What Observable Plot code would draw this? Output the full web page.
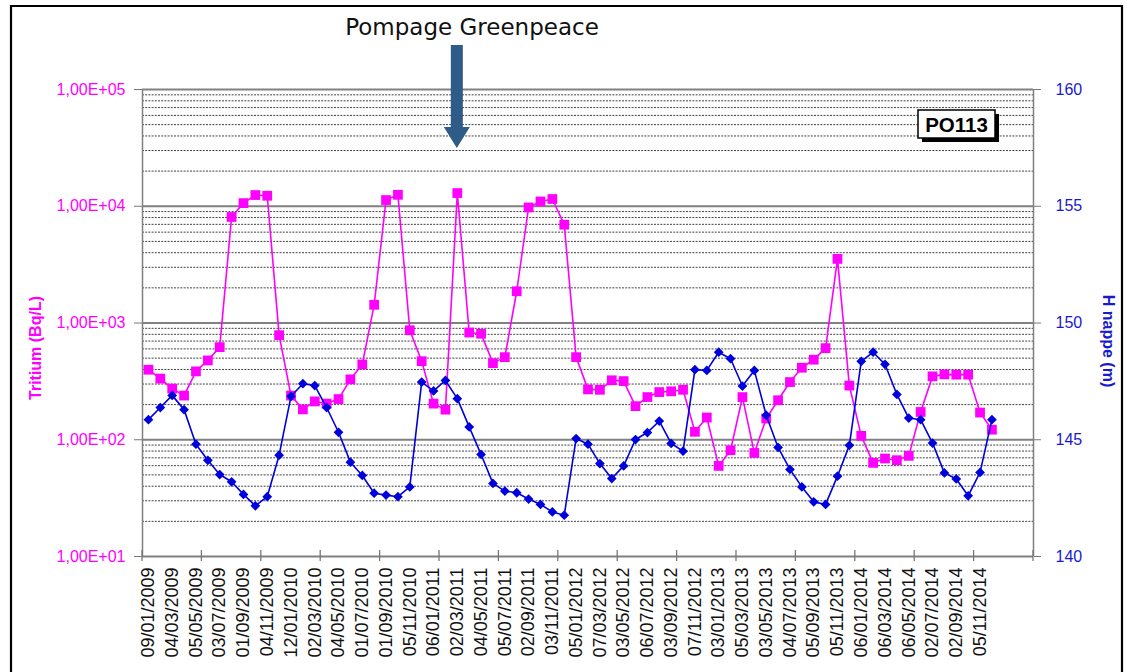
<!DOCTYPE html>
<html><head><meta charset="utf-8">
<script src="https://cdn.jsdelivr.net/npm/d3@7"></script>
<script src="https://cdn.jsdelivr.net/npm/@observablehq/plot@0.6"></script>
<style>html,body{margin:0;padding:0;background:#fff;} #chart{width:1130px;height:672px;overflow:hidden}</style>
</head><body><div id="chart"></div>
<script>
// ---- data ----
const dateLabels = [
  "09/01/2009","04/03/2009","05/05/2009","03/07/2009","01/09/2009","04/11/2009",
  "12/01/2010","02/03/2010","04/05/2010","01/07/2010","01/09/2010","05/11/2010",
  "06/01/2011","02/03/2011","04/05/2011","05/07/2011","02/09/2011","03/11/2011",
  "05/01/2012","07/03/2012","03/05/2012","06/07/2012","03/09/2012","07/11/2012",
  "03/01/2013","05/03/2013","03/05/2013","04/07/2013","05/09/2013","05/11/2013",
  "06/01/2014","06/03/2014","06/05/2014","02/07/2014","02/09/2014","05/11/2014"
];
const tritium = [398,334,274,239,385,478,621,8090,10640,12470,
  12300,787,239,182,213,204,223,329,442,1432,
  11300,12530,867,471,204,181,12970,829,809,453,
  510,1870,9770,10990,11530,6950,510,270,268,323,
  318,194,232,256,260,268,117,155,59.7,81.3,
  232,77.1,152,218,312,414,485,609,3540,291,
  108,63.4,69.1,66.8,72.8,173,349,363,361,361,
  171,122];
const hNappe = [145.86,146.38,146.90,146.29,144.81,144.12,143.51,143.20,142.66,142.17,
  142.56,144.34,146.86,147.40,147.32,146.38,145.32,144.04,143.47,142.71,
  142.63,142.56,142.98,147.47,147.09,147.54,146.76,145.55,144.37,143.13,
  142.80,142.73,142.46,142.23,141.91,141.77,145.05,144.81,143.98,143.34,
  143.88,145.01,145.31,145.80,144.84,144.51,148.00,147.97,148.75,148.47,
  147.30,147.97,146.05,144.67,143.73,142.98,142.34,142.23,143.44,144.76,
  148.36,148.75,148.23,146.94,145.93,145.86,144.86,143.58,143.32,142.60,
  143.60,145.86];
const categoryCount = 75;
const tritiumTicks = [10, 100, 1000, 10000, 100000];
const hTicks = [140, 145, 150, 155, 160];
const titleText = "Pompage Greenpeace";
const arrowIndex = 26;
const wellName = "PO113";
const leftLabel = "Tritium (Bq/L)";
const rightLabel = "H nappe (m)";

// ---- helpers ----
const PINK = "#ff00ff", BLUE = "#0000dd", LBLUE = "#1a1acc";
const hMin = hTicks[0], hMax = hTicks[hTicks.length - 1];
const logMin = Math.log10(tritiumTicks[0]), logMax = Math.log10(tritiumTicks[tritiumTicks.length - 1]);
const toLeft = h => 10 ** (logMin + (h - hMin) / (hMax - hMin) * (logMax - logMin));
const fromLeft = v => hMin + (Math.log10(v) - logMin) / (logMax - logMin) * (hMax - hMin);
const fmtSci = v => "1,00E+" + String(Math.round(Math.log10(v))).padStart(2, "0");
const minor = [];
for (let e = logMin; e < logMax; e++) for (let m = 2; m <= 9; m++) minor.push(m * 10 ** e);
const idx = (d, i) => i;
const boundaries = d3.range(0, categoryCount + 1, 5).map(b => b - 0.5);

const decor = (index, scales, values, dim) => {
  const g = d3.create("svg:g");
  const x = scales.x, y = scales.y;
  const y0 = y(tritiumTicks[0]);
  // x-axis crossing ticks
  for (const b of boundaries) {
    g.append("line").attr("x1", x(b)).attr("x2", x(b)).attr("y1", y0 - 6).attr("y2", y0 + 5)
      .attr("stroke", "#777").attr("stroke-width", 1.3);
  }
  // outer border
  g.append("path").attr("d", "M11,672V6H1122V672").attr("fill", "none").attr("stroke", "#000").attr("stroke-width", 2.2);
  // title + arrow
  const ax = x(arrowIndex);
  g.append("text").attr("x", 472).attr("y", 35).attr("text-anchor", "middle")
    .attr("font-family", "DejaVu Sans").attr("font-size", 23).attr("fill", "#111").text(titleText);
  g.append("path").attr("d", `M${ax-6},45H${ax+6}V127H${ax+13}L${ax},148L${ax-13},127H${ax-6}Z`)
    .attr("fill", "#2f5b88");
  // well name box
  g.append("rect").attr("x", 922).attr("y", 114).attr("width", 77).attr("height", 28).attr("fill", "#000");
  g.append("rect").attr("x", 918).attr("y", 110).attr("width", 77).attr("height", 28).attr("fill", "#fff")
    .attr("stroke", "#000").attr("stroke-width", 1.5);
  g.append("text").attr("x", 956.5).attr("y", 131.5).attr("text-anchor", "middle")
    .attr("font-family", "Liberation Sans").attr("font-weight", "bold").attr("font-size", 20.5).text(wellName);
  // axis titles
  g.append("text").attr("transform", "translate(41,348) rotate(-90)").attr("text-anchor", "middle")
    .attr("font-family", "Liberation Sans").attr("font-weight", "bold").attr("font-size", 16).attr("fill", PINK).text(leftLabel);
  g.append("text").attr("transform", "translate(1103,341) rotate(90)").attr("text-anchor", "middle")
    .attr("font-family", "Liberation Sans").attr("font-weight", "bold").attr("font-size", 16).attr("fill", LBLUE).text(rightLabel);
  return g.node();
};

const chart = Plot.plot({
  width: 1130, height: 672,
  marginLeft: 142, marginRight: 97, marginTop: 89, marginBottom: 116,
  style: {fontFamily: "Liberation Sans", background: "#fff"},
  x: {type: "linear", domain: [-0.5, categoryCount - 0.5]},
  y: {type: "log", domain: [tritiumTicks[0], tritiumTicks[tritiumTicks.length - 1]]},
  marks: [
    Plot.ruleY(minor, {stroke: "#444", strokeWidth: 1, strokeDasharray: "2,1.2"}),
    Plot.ruleY(tritiumTicks, {stroke: "#808080", strokeWidth: 1.8}),
    Plot.ruleX([-0.5, categoryCount - 0.5], {stroke: "#808080", strokeWidth: 1.5}),
    Plot.axisY(tritiumTicks, {anchor: "left", tickFormat: fmtSci, tickSize: 8, tickPadding: 9,
      stroke: "#777", fill: PINK, fontSize: 16, label: null}),
    Plot.axisY(hTicks.map(toLeft), {anchor: "right", tickFormat: v => Math.round(fromLeft(v)), tickSize: 7, tickPadding: 15,
      stroke: "#777", fill: LBLUE, fontSize: 16, label: null, textAnchor: "start"}),
    Plot.axisX(d3.range(0, dateLabels.length * 2, 2), {tickFormat: i => dateLabels[i / 2], tickRotate: -90,
      tickSize: 0, tickPadding: 11, fontSize: 18, fill: "#111", label: null}),
    Plot.line(tritium, {x: idx, y: d => d, stroke: PINK, strokeWidth: 1.6}),
    Plot.dot(tritium, {x: idx, y: d => d, symbol: "square", r: 5.5, fill: PINK, stroke: "none"}),
    Plot.line(hNappe, {x: idx, y: toLeft, stroke: BLUE, strokeWidth: 1.6}),
    Plot.dot(hNappe, {x: idx, y: toLeft, symbol: "diamond2", r: 4.4, fill: BLUE, stroke: "none"}),
    decor
  ]
});
document.getElementById("chart").appendChild(chart);
</script>
</body></html>
